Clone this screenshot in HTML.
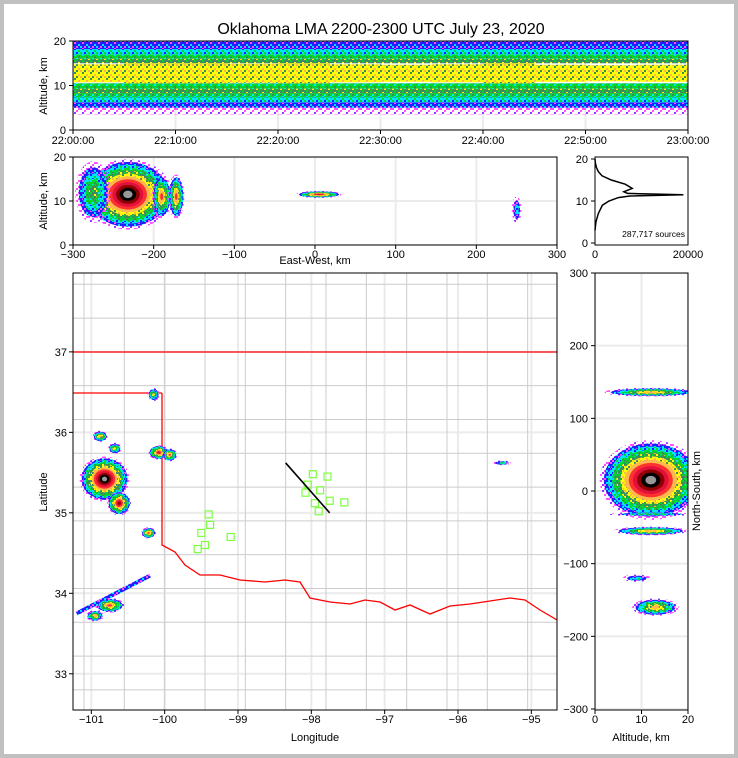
<!DOCTYPE html>
<html><head><meta charset="utf-8"><style>
html,body{margin:0;padding:0;background:#c0c0c0;}
#wrap{position:absolute;left:4px;top:4px;width:730px;height:750px;background:#fff;}
svg{position:absolute;left:0;top:0;}
text{font-family:"Liberation Sans",sans-serif;fill:#000;}
</style></head><body>
<div id="wrap"></div>
<svg id="svg" width="738" height="758" viewBox="0 0 738 758">
<defs id="defs"></defs>
<text x="381" y="34" font-size="16" text-anchor="middle">Oklahoma LMA 2200-2300 UTC July 23, 2020</text>
</svg>
<script>
// ---- data ----
const bandLow  = [3.5, 5, 6.2, 7.3, 8.3, 9.3, 10.5, 15, 16, 17, 18.2];
const bandHigh = [5, 6.2, 7.3, 8.3, 9.3, 10.5, 15, 16, 17, 18.2, 20];
const bandLevel= [1, 2, 3, 4, 5, 4, 6, 5, 4, 3, 2];
const coreScale = [0.9,1.0,1.0,0.95,1.0,0.9,0.85,0.9,1.0,0.85,0.8,0.85];
const histAlt   = [3, 5, 7, 9, 10, 10.8, 11.2, 11.5, 11.8, 12.2, 13, 14, 15, 16, 17, 18, 19, 20];
const histCount = [0, 200, 700, 1600, 3000, 5000, 7500, 19000, 7000, 6200, 8000, 6500, 3500, 1500, 700, 300, 80, 0];
const mapLon  = [-100.82,-100.62,-100.88,-100.68,-100.08,-99.93,-100.22,-100.15,-100.75,-100.95,-95.4];
const mapLat  = [35.42,35.12,35.95,35.8,35.75,35.72,34.75,36.47,33.85,33.72,35.62];
const mapRx   = [0.34,0.16,0.1,0.09,0.14,0.1,0.1,0.08,0.2,0.12,0.12];
const mapRy   = [0.28,0.15,0.07,0.07,0.09,0.08,0.07,0.08,0.09,0.07,0.03];
const mapPeak = [12,10,7,6,9,8,8,6,8,7,4];
const ewX   = [-232,-190,-172,-275,5,250];
const ewAlt = [11.5,11,11,12,11.5,8];
const ewRx  = [55,12,10,22,28,6];
const ewRy  = [8,5,5,7,0.8,3];
const ewPeak= [12,8,8,5,9,3];
const nsAlt = [12,12,12,12,9,13];
const nsY   = [136,15,-55,-32,-120,-160];
const nsRx  = [10,11,8,9,3,5];
const nsRy  = [6,55,6,3,5,12];
const nsPeak= [7,12,7,4,3,7];
const staLon = [-97.98,-97.88,-97.78,-98.08,-97.95,-98.05,-97.9,-97.75,-97.55,-99.38,-99.5,-99.4,-99.45,-99.55,-99.1];
const staLat = [35.48,35.28,35.45,35.25,35.12,35.35,35.02,35.15,35.13,34.85,34.75,34.98,34.6,34.55,34.7];
const timeTicks = ["22:00:00","22:10:00","22:20:00","22:30:00","22:40:00","22:50:00","23:00:00"];
const ewTicks = [-300,-200,-100,0,100,200,300];
const lonTicks = [-101,-100,-99,-98,-97,-96,-95];
const latTicks = [33,34,35,36,37];
const nsTicks = [300,200,100,0,-100,-200,-300];

const NS="http://www.w3.org/2000/svg";
const svg=document.getElementById('svg');
const defs=document.getElementById('defs');
const cmap=['#fff','#ff4dff','#2020ff','#00e5ff','#00d82a','#3c8c60','#ffff00','#ffb84d','#ff3030','#e0103c','#900000','#000000','#999999'];
function el(tag,attrs,parent){const e=document.createElementNS(NS,tag);for(const k in attrs)e.setAttribute(k,attrs[k]);(parent||svg).appendChild(e);return e;}
// speckle patterns mixing a level with neighbours
function mkPat(k){
  const p=el('pattern',{id:'p'+k,width:8,height:6,patternUnits:'userSpaceOnUse'},defs);
  const main=cmap[k],lo=k===1?'#ffffff':cmap[k-1],hi=cmap[Math.min(k+1,12)];
  if(k===1){el('rect',{x:0,y:0,width:8,height:6,fill:'#fff','fill-opacity':0},p);
    [[0,0,'#ff4dff'],[4,2,'#ff4dff'],[2,4,'#9933ff'],[6,0,'#ff4dff']].forEach(a=>el('rect',{x:a[0],y:a[1],width:2,height:2,fill:a[2]},p));return;}
  el('rect',{x:0,y:0,width:8,height:6,fill:main},p);
  el('rect',{x:2,y:0,width:2,height:2,fill:lo},p);
  el('rect',{x:6,y:2,width:2,height:2,fill:hi},p);
  el('rect',{x:0,y:4,width:2,height:2,fill:hi},p);
  el('rect',{x:4,y:4,width:2,height:2,fill:lo},p);
}
for(let k=1;k<=6;k++)mkPat(k);
function fillFor(k){return k<=6?'url(#p'+k+')':cmap[k];}
function txt(x,y,s,size,anchor,parent){const t=el('text',{x:x,y:y,'font-size':size,'text-anchor':anchor||'middle'},parent);t.textContent=s;return t;}
function lin(d0,d1,r0,r1){return v=>r0+(v-d0)/(d1-d0)*(r1-r0);}
function blob(g,cx,cy,rx,ry,peak){
  for(let k=1;k<=peak;k++){const f=1-(k-1)/(peak+0.3);
    el('ellipse',{cx:cx,cy:cy,rx:Math.max(rx*f,0.6),ry:Math.max(ry*f,0.6),fill:fillFor(k)},g);}
}
function frame(x0,y0,x1,y1,name){const r=el('rect',{x:x0,y:y0,width:x1-x0,height:y1-y0,fill:'none',stroke:'#000','stroke-width':1});}
function grid(g,x0,y0,x1,y1,xs,ys){xs.forEach(x=>el('line',{x1:x,x2:x,y1:y0,y2:y1,stroke:'#ebebeb','stroke-width':2},g));ys.forEach(y=>el('line',{x1:x0,x2:x1,y1:y,y2:y,stroke:'#ebebeb','stroke-width':2},g));}
function clip(id,x0,y0,x1,y1){const c=el('clipPath',{id:id},defs);el('rect',{x:x0,y:y0,width:x1-x0,height:y1-y0},c);}

// ---- panel 1 ----
{const X=lin(0,60,73,688),Y=lin(0,20,130,41);
clip('c1',73,41,688,130);
const g=el('g',{'clip-path':'url(#c1)'});
grid(g,73,41,688,130,[0,10,20,30,40,50,60].map(X),[0,10,20].map(Y));
coreScale.forEach((s,i)=>{
  for(let b=0;b<bandLow.length;b++){
    let lo=bandLow[b],hi=bandHigh[b];
    if(bandLevel[b]===6){const m=(lo+hi)/2,h=(hi-lo)/2*s;lo=m-h;hi=m+h;}
    const r=el('rect',{x:X(i*5),y:Y(hi),width:X(5)-X(0)+0.5,height:Y(lo)-Y(hi),fill:fillFor(bandLevel[b])},g);
    
  }});
frame(73,41,688,130,'time-height-frame');
[0,10,20].forEach(v=>{el('line',{x1:69,x2:73,y1:Y(v),y2:Y(v),stroke:'#000'});txt(66,Y(v)+4,v,11,'end');});
timeTicks.forEach((t,i)=>{const x=X(i*10);el('line',{x1:x,x2:x,y1:130,y2:134,stroke:'#000'});txt(x,144,t,11);});
const yl=txt(0,0,'Altitude, km',11);yl.setAttribute('transform','translate(47,86) rotate(-90)');}

// ---- panel 2 ----
{const X=lin(-300,300,73,557),Y=lin(0,20,245,157);
clip('c2',73,157,557,245);
const g=el('g',{'clip-path':'url(#c2)'});
grid(g,73,157,557,245,ewTicks.map(X),[0,10,20].map(Y));
ewX.forEach((v,i)=>{const sg=el('g',{},g);
  blob(sg,X(v),Y(ewAlt[i]),X(ewRx[i])-X(0),Y(0)-Y(ewRy[i]),ewPeak[i]);});
frame(73,157,557,245,'ew-frame');
[0,10,20].forEach(v=>{el('line',{x1:69,x2:73,y1:Y(v),y2:Y(v),stroke:'#000'});txt(66,Y(v)+4,v,11,'end');});
ewTicks.forEach(v=>{const x=X(v);el('line',{x1:x,x2:x,y1:245,y2:249,stroke:'#000'});txt(x,258,v<0?'\u2212'+(-v):v,11);});
txt(315,264,'East-West, km',11);
const yl=txt(0,0,'Altitude, km',11);yl.setAttribute('transform','translate(47,201) rotate(-90)');}

// ---- panel 3 ----
{const X=lin(0,20000,595,688),Y=lin(0,20,243,159);
const p=histAlt.map((a,i)=>X(histCount[i]).toFixed(1)+','+Y(a).toFixed(1)).join(' ');
const pl=el('polyline',{points:p,fill:'none',stroke:'#000','stroke-width':1.5});

frame(595,157,688,245,'histogram-frame');
[0,10,20].forEach(v=>{el('line',{x1:591,x2:595,y1:Y(v),y2:Y(v),stroke:'#000'});txt(588,Y(v)+4,v,11,'end');});
[0,20000].forEach(v=>{const x=X(v);txt(x,258,v,11);});
txt(685,237,'287,717 sources',8.5,'end');}

// ---- map ----
{const X=lin(-101.25,-94.65,73,557),Y=lin(37.98,32.55,273,710);
clip('c4',73,273,557,710);
const g=el('g',{'clip-path':'url(#c4)'});
grid(g,73,273,557,710,lonTicks.map(X),latTicks.map(Y));
const cg=el('g',{stroke:'#cccccc','stroke-width':1,fill:'none'},g);
for(let lo=-101.1;lo<-94.6;lo+=0.55){el('line',{x1:X(lo),x2:X(lo),y1:273,y2:710},cg);}
for(let la=32.8;la<38;la+=0.42){el('line',{x1:73,x2:557,y1:Y(la),y2:Y(la)},cg);}
const sb=el('g',{stroke:'#ff0000','stroke-width':1.3,fill:'none'},g);
el('line',{x1:73,x2:557,y1:352,y2:352},sb);
el('line',{x1:73,x2:162,y1:393,y2:393},sb);
el('polyline',{points:'162,393 162,545 175,552 185,565 200,575 220,575 240,580 265,582 285,580 300,582 310,598 330,602 350,604 365,600 380,602 395,610 410,605 430,614 450,606 470,604 490,601 510,598 525,600 540,610 557,620'},sb);
staLon.forEach((v,i)=>{const r=el('rect',{x:X(v)-3.5,y:Y(staLat[i])-3.5,width:7,height:7,fill:'none',stroke:'#7cff3c','stroke-width':1.2},g);});
el('polyline',{points:X(-101.2)+','+Y(33.75)+' '+X(-100.2)+','+Y(34.22),stroke:'url(#p2)','stroke-width':4,fill:'none'},g);
mapLon.forEach((v,i)=>{const sg=el('g',{},g);
  blob(sg,X(v),Y(mapLat[i]),X(v+mapRx[i])-X(v),Y(mapLat[i]-mapRy[i])-Y(mapLat[i]),mapPeak[i]);});
el('polyline',{points:X(-98.35)+','+Y(35.62)+' '+X(-97.75)+','+Y(35.0),stroke:'#000','stroke-width':1.6,fill:'none'},g);
frame(73,273,557,710,'map-frame');
latTicks.forEach(v=>{el('line',{x1:69,x2:73,y1:Y(v),y2:Y(v),stroke:'#000'});txt(67,Y(v)+4,v,11,'end');});
lonTicks.forEach(v=>{const x=X(v);el('line',{x1:x,x2:x,y1:710,y2:714,stroke:'#000'});txt(x,723,'\u2212'+(-v),11);});
txt(315,741,'Longitude',11);
const yl=txt(0,0,'Latitude',11);yl.setAttribute('transform','translate(47,492) rotate(-90)');}

// ---- NS ----
{const X=lin(0,20,595,688),Y=lin(300,-300,273,709);
clip('c5',595,273,688,710);
const g=el('g',{'clip-path':'url(#c5)'});
grid(g,595,273,688,710,[0,10,20].map(X),nsTicks.map(Y));
nsAlt.forEach((v,i)=>{const sg=el('g',{},g);
  blob(sg,X(v),Y(nsY[i]),X(nsRx[i])-X(0),Y(0)-Y(nsRy[i]),nsPeak[i]);});
frame(595,273,688,710,'ns-frame');
nsTicks.forEach(v=>{el('line',{x1:591,x2:595,y1:Y(v),y2:Y(v),stroke:'#000'});txt(588,Y(v)+4,v<0?'\u2212'+(-v):v,11,'end');});
[0,10,20].forEach(v=>{const x=X(v);el('line',{x1:x,x2:x,y1:710,y2:714,stroke:'#000'});txt(x,723,v,11);});
txt(641,741,'Altitude, km',11);
const yl=txt(0,0,'North-South, km',11);yl.setAttribute('transform','translate(700,491) rotate(-90)');}
</script>
</body></html>
